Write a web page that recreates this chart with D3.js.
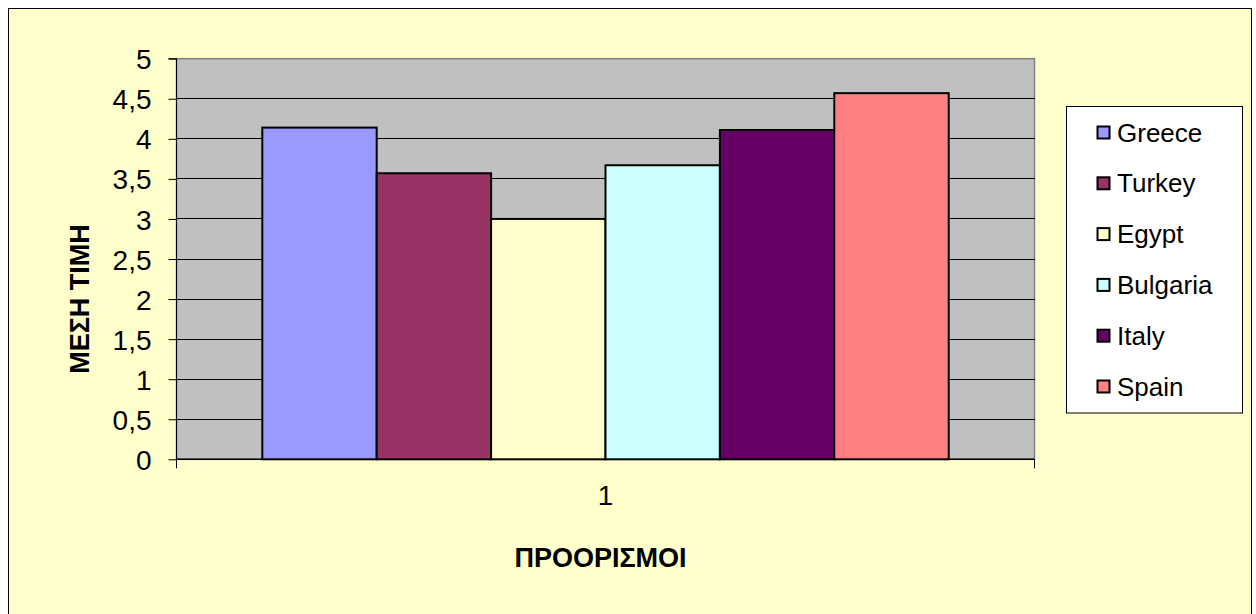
<!DOCTYPE html>
<html><head><meta charset="utf-8">
<script src="https://cdn.jsdelivr.net/npm/d3@7"></script>
<style>body{margin:0;background:#fff}svg{display:block}text{font-family:Arial,"Liberation Sans",sans-serif}</style>
</head><body>
<svg id="c" width="1256" height="614"></svg>
<script>
const categories = ["1"];
const seriesNames = ["Greece","Turkey","Egypt","Bulgaria","Italy","Spain"];
const seriesValues = [4.14, 3.57, 3.0, 3.67, 4.11, 4.57];
const seriesColors = ["#9999FF","#993366","#FFFFCC","#CCFFFF","#660066","#FF8080"];
const yTicks = [0,0.5,1,1.5,2,2.5,3,3.5,4,4.5,5];
const yTitle = "ΜΕΣΗ ΤΙΜΗ";
const xTitle = "ΠΡΟΟΡΙΣΜΟΙ";

const svg = d3.select("#c");
svg.append("rect").attr("x",8.5).attr("y",8.5).attr("width",1243).attr("height",620)
  .attr("fill","#FFFFCC").attr("stroke","#000").attr("stroke-width",1);

const L=176.5, R=1034.5, T=58.7, B=459.3;
const y = d3.scaleLinear().domain([0,5]).range([B,T]);
const x0 = d3.scaleBand().domain(categories).range([L,R]).paddingInner(0).paddingOuter(0);
// Excel gap width 150% => group = bw*6, gaps 1.5*bw total
const groupFrac = 6/7.5;
const x1 = d3.scaleBand().domain(seriesNames)
  .range([0, x0.bandwidth()*groupFrac]);

svg.append("rect").attr("x",L).attr("y",T).attr("width",R-L).attr("height",B-T)
  .attr("fill","#C0C0C0").attr("stroke","#808080").attr("stroke-width",1.5);

// gridlines
svg.append("g").selectAll("line").data(yTicks.filter(d=>d>0&&d<5)).join("line")
  .attr("x1",L).attr("x2",R).attr("y1",d=>y(d)).attr("y2",d=>y(d))
  .attr("stroke","#000").attr("stroke-width",1).attr("shape-rendering","crispEdges");

// y axis
const yAxis = d3.axisLeft(y).tickValues(yTicks).tickSize(8).tickPadding(17)
  .tickFormat(d=>String(d).replace(".",","));
const gy = svg.append("g").attr("transform",`translate(${L},0)`).call(yAxis);
gy.attr("font-size",null).attr("font-family",null);
gy.select(".domain").attr("stroke","#000").attr("d",`M-8,${T}H0V${B}`);
gy.selectAll(".tick line").attr("stroke","#000");
gy.selectAll("text").attr("x",-25).style("font-size","28px").attr("fill","#000").attr("dy","0.36em");

// x axis
const gx = svg.append("g").attr("transform",`translate(0,${B})`);
gx.append("line").attr("x1",L).attr("x2",R).attr("y1",0).attr("y2",0).attr("stroke","#000").attr("stroke-width",1.5);
gx.selectAll(".bt").data([L,R]).join("line").attr("x1",d=>d).attr("x2",d=>d).attr("y1",0).attr("y2",9).attr("stroke","#000");
gx.selectAll("text").data(categories).join("text")
  .attr("x",d=>x0(d)+x0.bandwidth()/2).attr("y",46).attr("text-anchor","middle")
  .style("font-size","28px").attr("fill","#000").text(d=>d);

// bars
const gOff = x0.bandwidth()*(1-groupFrac)/2;
svg.append("g").selectAll("rect").data(seriesNames.map((n,i)=>({n,v:seriesValues[i],c:seriesColors[i]})))
  .join("rect")
  .attr("x",d=>x0(categories[0])+gOff+x1(d.n))
  .attr("y",d=>y(d.v)).attr("width",x1.bandwidth()).attr("height",d=>B-y(d.v))
  .attr("fill",d=>d.c).attr("stroke","#000").attr("stroke-width",2);

// titles
svg.append("text").attr("transform",`translate(89,299) rotate(-90)`)
  .attr("text-anchor","middle").style("font-size","27px").attr("font-weight","bold").text(yTitle);
svg.append("text").attr("x",(L+R)/2-5).attr("y",567).attr("text-anchor","middle")
  .style("font-size","27px").attr("font-weight","bold").text(xTitle);

// legend
const lg = svg.append("g");
lg.append("rect").attr("x",1066.5).attr("y",106.5).attr("width",176).attr("height",306.5)
  .attr("fill","#fff").attr("stroke","#000").attr("stroke-width",1);
const items = lg.selectAll("g").data(seriesNames).join("g")
  .attr("transform",(d,i)=>`translate(0,${133+i*50.8})`);
items.append("rect").attr("x",1097.5).attr("y",-6.5).attr("width",12).attr("height",12)
  .attr("fill",(d,i)=>seriesColors[i]).attr("stroke","#000").attr("stroke-width",2);
items.append("text").attr("x",1117).attr("y",8.5).style("font-size","26px").attr("fill","#000").text(d=>d);
</script>
</body></html>
